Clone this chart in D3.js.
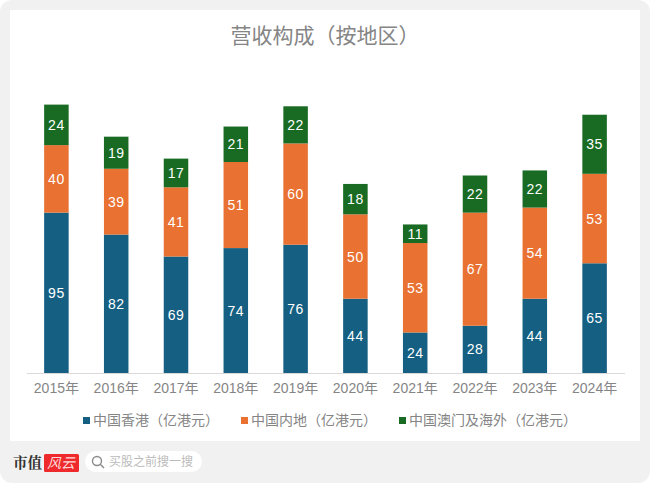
<!DOCTYPE html>
<html><head><meta charset="utf-8">
<script src="https://cdn.jsdelivr.net/npm/d3@7/dist/d3.min.js"></script>
<style>html,body{margin:0;padding:0;background:#fff}svg{display:block}</style></head>
<body><svg id="c" width="650" height="483"></svg>
<script>
const years=["2015年","2016年","2017年","2018年","2019年","2020年","2021年","2022年","2023年","2024年"];
const hongKong=[95,82,69,74,76,44,24,28,44,65];
const mainland=[40,39,41,51,60,50,53,67,54,53];
const macauOverseas=[24,19,17,21,22,18,11,22,22,35];
const seriesNames=["中国香港（亿港元）","中国内地（亿港元）","中国澳门及海外（亿港元）"];
const seriesColors=["#156082","#e97132","#196b24"];
const title="营收构成（按地区）";
const font="'Liberation Sans','Noto Sans CJK SC',sans-serif";
const grey="#858585";

const svg=d3.select("#c").style("font-family",font);
svg.append("rect").attr("width",650).attr("height",483).attr("rx",12).attr("fill","#f1f1f1");
svg.append("rect").attr("x",10).attr("y",10).attr("width",630).attr("height",431).attr("fill","#fff");

svg.append("text").attr("x",325).attr("y",43).attr("text-anchor","middle")
  .attr("font-size",21).attr("fill",grey).text(title);

const x=d3.scaleBand().domain(years).range([26.5,624.5]).paddingInner(0.59).paddingOuter(0.295);
const y=d3.scaleLinear().domain([0,159]).range([373,104.6]);
const rows=years.map((yr,i)=>({yr,a:hongKong[i],b:mainland[i],c:macauOverseas[i]}));
const stacked=d3.stack().keys(["a","b","c"])(rows);

stacked.forEach((s,k)=>{
  const g=svg.append("g");
  g.selectAll("rect").data(s).join("rect")
    .attr("x",d=>x(d.data.yr)).attr("width",x.bandwidth())
    .attr("y",d=>y(d[1])).attr("height",d=>y(d[0])-y(d[1]))
    .attr("fill",seriesColors[k]);
  g.selectAll("text").data(s).join("text")
    .attr("x",d=>x(d.data.yr)+x.bandwidth()/2)
    .attr("y",d=>(y(d[0])+y(d[1]))/2+5)
    .attr("text-anchor","middle").attr("font-size",14).attr("letter-spacing",0.5).attr("fill","#fff")
    .text(d=>d[1]-d[0]);
});

const axis=svg.append("g").attr("transform","translate(0,373)")
  .call(d3.axisBottom(x).tickSize(0).tickPadding(10));
axis.select(".domain").attr("stroke","#d9d9d9").attr("stroke-width",1.2);
axis.selectAll("text").attr("font-size",14).attr("fill",grey).attr("font-family",font);

const legendX=[83,241,399];
const lg=svg.append("g");
seriesNames.forEach((n,i)=>{
  lg.append("rect").attr("x",legendX[i]).attr("y",417).attr("width",7).attr("height",7).attr("fill",seriesColors[i]);
  lg.append("text").attr("x",legendX[i]+10).attr("y",425).attr("font-size",14)
    .attr("fill",grey).text(n);
});

// footer brand
svg.append("text").attr("x",13).attr("y",468).attr("font-size",14.5).attr("font-weight",700)
  .attr("fill","#333").attr("font-family","'Noto Serif CJK SC','Noto Sans CJK SC',serif").text("市值");
svg.append("rect").attr("x",44).attr("y",454).attr("width",35).attr("height",18).attr("rx",1.5).attr("fill","#ee2a2c");
svg.append("text").attr("x",47).attr("y",468).attr("font-size",14).attr("font-style","italic")
  .attr("fill","#ffd9d9").text("风云");
svg.append("rect").attr("x",85).attr("y",451).attr("width",117).attr("height",21).attr("rx",10.5).attr("fill","#fff");
svg.append("circle").attr("cx",97).attr("cy",461).attr("r",4.5).attr("fill","none").attr("stroke","#8a8a8a").attr("stroke-width",1.4);
svg.append("line").attr("x1",100.5).attr("y1",464.5).attr("x2",104).attr("y2",468).attr("stroke","#8a8a8a").attr("stroke-width",1.4);
svg.append("text").attr("x",109).attr("y",466).attr("font-size",12).attr("fill","#bbb").text("买股之前搜一搜");
</script></body></html>
